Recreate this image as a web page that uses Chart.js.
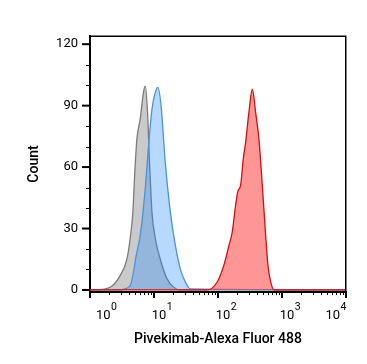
<!DOCTYPE html>
<html>
<head>
<meta charset="utf-8">
<script src="https://cdn.jsdelivr.net/npm/chart.js@4.4.1/dist/chart.umd.min.js"></script>
<style>
  html, body { margin: 0; padding: 0; background: #fff; }
  canvas { display: block; }
</style>
</head>
<body>
<canvas id="HistChart" width="367" height="364"></canvas>
<script>
(function () {
  "use strict";

  // Data (fluorescence intensity, count)
  const gray_x = [1, 1.27, 2.06, 2.96, 3.77, 4.24, 4.68, 4.95, 5.40, 6.09, 6.86, 7.29, 7.92, 8.51, 9.29, 10.5, 12.5, 16.0, 20.0, 25.8, 10000];
  const gray_y = [0, 0.1, 1.3, 7, 15, 25, 38, 54, 73.6, 83.4, 96.6, 99.5, 86.8, 62.4, 38, 24.9, 15.1, 5.4, 1.5, 0, 0];

  const blue_x = [1, 2.96, 4.24, 5.40, 6.09, 7.29, 8.22, 9.29, 10.5, 11.5, 12.9, 15.0, 18.0, 21.6, 25.8, 30.9, 37.0, 10000];
  const blue_y = [0, 0.1, 2.1, 18.5, 26.5, 49.3, 70.4, 88.3, 96.6, 98.9, 89.9, 62.4, 38, 21.6, 10.2, 3.9, 0.5, 0];

  const red_x = [1, 67.7, 97.1, 123, 148, 167, 188, 205, 225, 248, 270, 304, 344, 387, 436, 493, 556, 604, 666, 750, 10000];
  const red_y = [0, 0, 3.9, 11.9, 21.6, 28.3, 41.1, 48.4, 50.9, 63.9, 72, 86.7, 98, 86.7, 73.6, 50.9, 26.5, 11.9, 3.9, 0, 0];

  // Axes
  const x_decades = [0, 1, 2, 3, 4];
  const y_ticks = [0, 10, 20, 30, 40, 50, 60, 70, 80, 90, 100, 110, 120];
  const y_labels = [0, 30, 60, 90, 120];

  const x_title = 'Pivekimab-Alexa Fluor 488';
  const y_title = 'Count';

  function toPoints(xs, ys) {
    return xs.map(function (v, i) { return { x: v, y: ys[i] }; });
  }

  // all log ticks 1..9 per decade
  const x_ticks = [];
  x_decades.forEach(function (d) {
    if (d === x_decades[x_decades.length - 1]) { x_ticks.push(Math.pow(10, d)); return; }
    for (let m = 1; m < 10; m++) x_ticks.push(m * Math.pow(10, d));
  });

  function isDecade(v) {
    const l = Math.log10(v);
    return Math.abs(l - Math.round(l)) < 1e-9;
  }

  // frame, tick marks and 10^n labels
  const axisDecor = {
    id: 'axisDecor',
    afterDraw(chart) {
      const ctx = chart.ctx;
      const a = chart.chartArea;
      const xs = chart.scales.x, ys = chart.scales.y;
      ctx.save();
      ctx.strokeStyle = '#000';
      ctx.fillStyle = '#000';

      ctx.lineWidth = 1.5;
      ctx.beginPath();
      ctx.moveTo(a.left, a.top + 0.25);
      ctx.lineTo(a.right - 0.25, a.top + 0.25);
      ctx.lineTo(a.right - 0.25, a.bottom);
      ctx.stroke();

      xs.ticks.forEach(function (t) {
        const px = xs.getPixelForValue(t.value);
        const major = isDecade(t.value);
        ctx.lineWidth = major ? 2 : 1;
        ctx.beginPath();
        ctx.moveTo(major ? px : Math.round(px) + 0.5, a.bottom);
        ctx.lineTo(major ? px : Math.round(px) + 0.5, a.bottom + (major ? 6 : 3));
        ctx.stroke();
      });

      ys.ticks.forEach(function (t) {
        if (y_ticks.indexOf(t.value) < 0) return;
        const py = ys.getPixelForValue(t.value);
        const major = y_labels.indexOf(t.value) >= 0;
        ctx.lineWidth = major ? 2 : 1;
        ctx.beginPath();
        ctx.moveTo(a.left, major ? py : Math.round(py) + 0.5);
        ctx.lineTo(a.left - (major ? 8 : 4), major ? py : Math.round(py) + 0.5);
        ctx.stroke();
      });

      ctx.textBaseline = 'alphabetic';
      ctx.textAlign = 'left';
      x_decades.forEach(function (d) {
        const px = xs.getPixelForValue(Math.pow(10, d));
        const exp = String(d);
        ctx.font = '13px Roboto';
        const w1 = ctx.measureText('10').width;
        ctx.font = '10.5px Roboto';
        const w2 = ctx.measureText(exp).width;
        let left = px + 8 - (w1 + w2) / 2;
        left = Math.max(left, a.left + 6);
        left = Math.min(left, a.right - (w1 + w2));
        ctx.font = '13px Roboto';
        ctx.fillText('10', left, 319);
        ctx.font = '10.5px Roboto';
        ctx.fillText(exp, left + w1 + 0.5, 310);
      });
      ctx.restore();
    }
  };

  const myChart = function () {
    Chart.defaults.font.family = 'Roboto';
    Chart.defaults.color = '#000';

    const el = document.getElementById('HistChart');
    if (el == null) return;
    const ctx = el.getContext('2d');

    new Chart(ctx, {
      type: 'line',
      data: {
        datasets: [{
          label: 'Pivekimab',
          data: toPoints(red_x, red_y),
          borderColor: '#d80d0d',
          backgroundColor: 'rgba(255, 45, 45, 0.5)',
          fill: 'origin'
        }, {
          label: 'Cells',
          data: toPoints(blue_x, blue_y),
          borderColor: '#4a92de',
          backgroundColor: 'rgba(40, 140, 255, 0.33)',
          fill: 'origin'
        }, {
          label: 'Isotype',
          data: toPoints(gray_x, gray_y),
          borderColor: '#7b7b7b',
          backgroundColor: 'rgba(128, 128, 128, 0.42)',
          fill: 'origin'
        }]
      },
      options: {
        responsive: false,
        animation: false,
        devicePixelRatio: 1,
        layout: { padding: { top: 36, right: 21, left: 0, bottom: 0 } },
        elements: {
          line: { borderWidth: 1.3, cubicInterpolationMode: 'monotone' },
          point: { radius: 0, hitRadius: 0 }
        },
        scales: {
          x: {
            type: 'logarithmic',
            min: 1,
            max: 10000,
            afterBuildTicks: function (s) { s.ticks = x_ticks.map(function (v) { return { value: v }; }); },
            afterFit: function (s) { s.height = 72; },
            grid: { display: false, drawTicks: false },
            border: { display: true, color: '#000', width: 2 },
            ticks: { callback: function () { return ''; } },
            title: {
              display: true,
              text: x_title,
              font: { size: 14, weight: '500' },
              padding: { top: 0, bottom: 16 }
            }
          },
          y: {
            min: -1,
            max: 124,
            afterBuildTicks: function (s) { s.ticks = y_ticks.map(function (v) { return { value: v }; }); },
            afterFit: function (s) { s.width = 90; },
            grid: { display: false, drawTicks: false },
            border: { display: true, color: '#000', width: 2 },
            ticks: {
              padding: 12,
              font: { size: 13 },
              autoSkip: false,
              callback: function (v) { return y_labels.indexOf(v) >= 0 ? String(v) : ''; }
            },
            title: {
              display: true,
              text: y_title,
              font: { size: 14, weight: '500' },
              padding: { top: 26, bottom: 0 }
            }
          }
        },
        plugins: {
          legend: { display: false },
          tooltip: { enabled: false }
        }
      },
      plugins: [axisDecor]
    });
  };

  myChart();
})();
</script>
</body>
</html>
